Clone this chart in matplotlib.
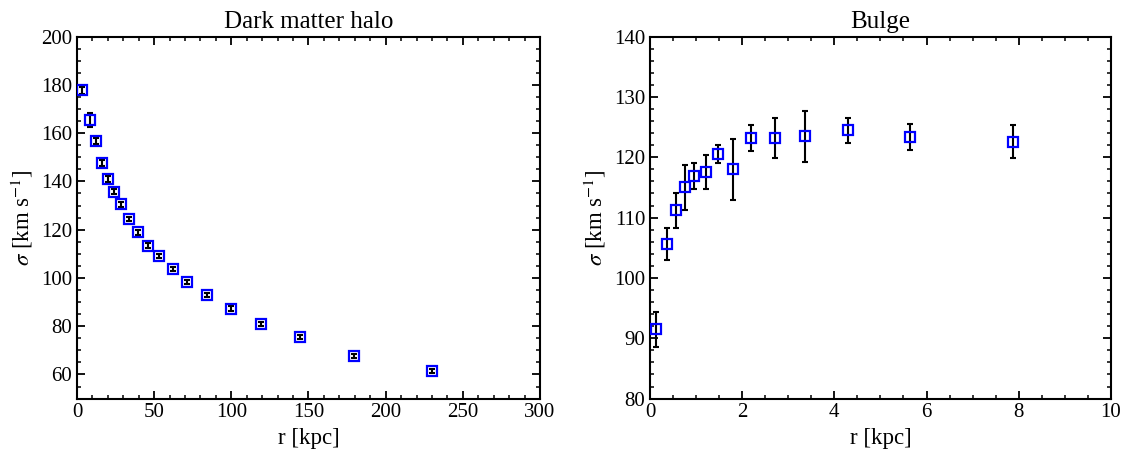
import matplotlib
matplotlib.use('Agg')
import matplotlib.pyplot as plt
from matplotlib.ticker import MultipleLocator

# Dark matter halo profile
halo_r = [3.2, 8.6, 12.3, 16.0, 20.1, 24.2, 28.6, 33.8, 39.4, 45.8,
          53.0, 62.1, 71.4, 84.3, 99.5, 119.0, 144.4, 179.2, 230.0]
halo_sigma = [177.8, 165.4, 156.9, 147.5, 141.0, 135.7, 130.5, 124.4, 119.0, 113.4,
              109.1, 103.7, 98.3, 93.0, 87.3, 81.0, 75.4, 67.8, 61.4]
halo_err = [1.5, 2.8, 1.3, 1.2, 1.2, 1.1, 1.1, 1.0, 1.0, 1.0,
            1.0, 1.0, 0.9, 0.9, 0.9, 0.8, 0.8, 0.8, 0.8]

# Bulge profile
bulge_r = [0.13, 0.38, 0.56, 0.76, 0.96, 1.21, 1.47, 1.80, 2.20, 2.71, 3.37, 4.30, 5.65, 7.87]
bulge_sigma = [91.5, 105.6, 111.2, 115.0, 116.9, 117.5, 120.5, 118.0, 123.2, 123.2, 123.5, 124.5, 123.4, 122.6]
bulge_err = [2.9, 2.7, 2.9, 3.7, 2.2, 2.8, 1.5, 5.1, 2.2, 3.3, 4.2, 2.05, 2.15, 2.8]

plt.rcParams['font.family'] = ['Liberation Serif', 'DejaVu Serif']
plt.rcParams['mathtext.fontset'] = 'stix'
plt.rcParams['font.size'] = 15

fig = plt.figure(figsize=(11.29, 4.5), dpi=100)
ax1 = fig.add_axes([0.0682, 0.1142, 0.4101, 0.8044])
ax2 = fig.add_axes([0.5757, 0.1142, 0.4083, 0.8044])


def draw(ax, r, s, e):
    ax.errorbar(r, s, yerr=e, fmt='none', ecolor='black', elinewidth=1.5,
                capsize=2.5, capthick=1.5, zorder=2)
    ax.plot(r, s, 's', mfc='none', mec='#0000ff', mew=1.6, ms=7, zorder=3)


draw(ax1, halo_r, halo_sigma, halo_err)
draw(ax2, bulge_r, bulge_sigma, bulge_err)

ax1.set_xlim(0, 300)
ax1.set_ylim(50, 200)
ax1.xaxis.set_major_locator(MultipleLocator(50))
ax1.xaxis.set_minor_locator(MultipleLocator(10))
ax1.yaxis.set_major_locator(MultipleLocator(20))
ax1.yaxis.set_minor_locator(MultipleLocator(5))
ax1.set_title('Dark matter halo', fontsize=18)

ax2.set_xlim(0, 10)
ax2.set_ylim(80, 140)
ax2.xaxis.set_major_locator(MultipleLocator(2))
ax2.xaxis.set_minor_locator(MultipleLocator(0.5))
ax2.yaxis.set_major_locator(MultipleLocator(10))
ax2.yaxis.set_minor_locator(MultipleLocator(2))
ax2.set_title('Bulge', fontsize=18)

for ax in (ax1, ax2):
    ax.set_xlabel('r [kpc]', fontsize=16.5)
    ax.set_ylabel(r'$\sigma$ [km s$^{-1}$]', fontsize=16.5)
    ax.tick_params(which='both', direction='in', top=True, right=True)
    ax.tick_params(which='major', length=6, width=1.3)
    ax.tick_params(which='minor', length=3, width=1.1)
    for sp in ax.spines.values():
        sp.set_linewidth(1.5)

fig.savefig('out.png', dpi=100)
